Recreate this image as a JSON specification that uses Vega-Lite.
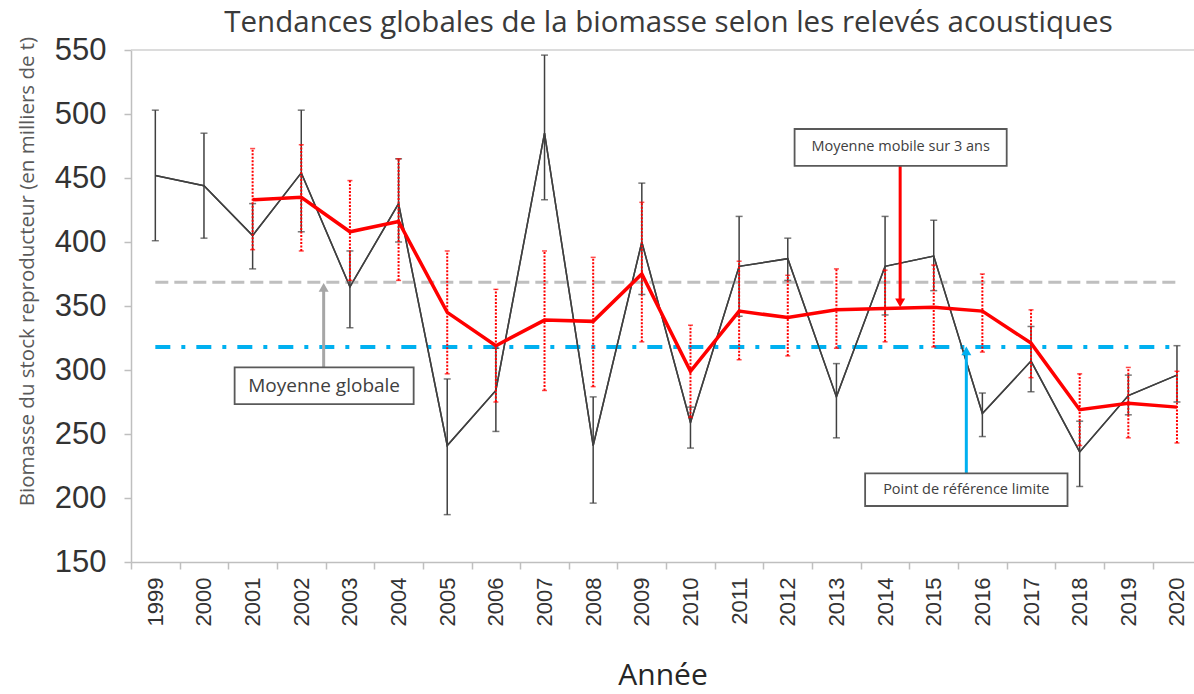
{
  "$schema": "https://vega.github.io/schema/vega-lite/v6.json",
  "width": 1063,
  "height": 512,
  "autosize": {"type": "none"},
  "padding": {"left": 131, "top": 50, "right": 0, "bottom": 132},
  "background": "white",
  "config": {
    "view": {"stroke": null},
    "font": "Open Sans",
    "axis": {
      "grid": false,
      "domainColor": "#BFBFBF",
      "domainWidth": 1.5,
      "tickColor": "#BFBFBF",
      "tickWidth": 1.5,
      "labelFont": "Liberation Sans",
      "labelColor": "#333333",
      "titleFont": "Open Sans",
      "titleFontWeight": "normal"
    }
  },
  "title": {
    "text": "Tendances globales de la biomasse selon les relevés acoustiques",
    "font": "Open Sans",
    "fontSize": 29.5,
    "fontWeight": "normal",
    "color": "#3a3a3a",
    "anchor": "middle",
    "offset": -4,
    "dx": 6
  },
  "datasets": {
    "main": [
      {"year": 1999, "val": 452, "lo": 401, "hi": 503, "ma": null, "malo": null, "mahi": null},
      {"year": 2000, "val": 444, "lo": 403, "hi": 485, "ma": null, "malo": null, "mahi": null},
      {"year": 2001, "val": 405, "lo": 379, "hi": 430, "ma": 433, "malo": 394, "mahi": 473},
      {"year": 2002, "val": 454, "lo": 408, "hi": 503, "ma": 435, "malo": 393, "mahi": 476},
      {"year": 2003, "val": 365, "lo": 333, "hi": 393, "ma": 408, "malo": 370, "mahi": 448},
      {"year": 2004, "val": 430, "lo": 400, "hi": 465, "ma": 416, "malo": 370, "mahi": 465},
      {"year": 2005, "val": 241, "lo": 187, "hi": 293, "ma": 345, "malo": 297, "mahi": 393},
      {"year": 2006, "val": 284, "lo": 252, "hi": 317, "ma": 319, "malo": 275, "mahi": 363},
      {"year": 2007, "val": 485, "lo": 433, "hi": 546, "ma": 339, "malo": 284, "mahi": 393},
      {"year": 2008, "val": 241, "lo": 196, "hi": 279, "ma": 338, "malo": 287, "mahi": 388},
      {"year": 2009, "val": 400, "lo": 359, "hi": 446, "ma": 375, "malo": 322, "mahi": 431},
      {"year": 2010, "val": 259, "lo": 239, "hi": 271, "ma": 299, "malo": 263, "mahi": 335},
      {"year": 2011, "val": 381, "lo": 342, "hi": 420, "ma": 346, "malo": 308, "mahi": 385},
      {"year": 2012, "val": 387, "lo": 370, "hi": 403, "ma": 341, "malo": 311, "mahi": 374},
      {"year": 2013, "val": 279, "lo": 247, "hi": 305, "ma": 347, "malo": 317, "mahi": 379},
      {"year": 2014, "val": 381, "lo": 343, "hi": 420, "ma": 348, "malo": 322, "mahi": 378},
      {"year": 2015, "val": 389, "lo": 362, "hi": 417, "ma": 349, "malo": 318, "mahi": 382},
      {"year": 2016, "val": 266, "lo": 248, "hi": 282, "ma": 346, "malo": 314, "mahi": 375},
      {"year": 2017, "val": 307, "lo": 283, "hi": 334, "ma": 321, "malo": 294, "mahi": 347},
      {"year": 2018, "val": 236, "lo": 209, "hi": 260, "ma": 269, "malo": 241, "mahi": 297},
      {"year": 2019, "val": 280, "lo": 265, "hi": 296, "ma": 274, "malo": 247, "mahi": 302},
      {"year": 2020, "val": 296, "lo": 275, "hi": 319, "ma": 271, "malo": 243, "mahi": 299}
    ],
    "refs": [
      {"ref": "Moyenne globale", "year": 1999, "v": 368.5},
      {"ref": "Moyenne globale", "year": 2020, "v": 368.5},
      {"ref": "Point de référence limite", "year": 1999, "v": 318},
      {"ref": "Point de référence limite", "year": 2020, "v": 318}
    ],
    "arrows": [
      {"a": "glob", "year": 2002.46, "v": 302.1, "v2": 364.5},
      {"a": "ma", "year": 2014.31, "v": 459.4, "v2": 352.4},
      {"a": "lim", "year": 2015.67, "v": 219.3, "v2": 315}
    ],
    "boxes": [
      {"label": "Moyenne globale", "year": 2000.63, "year2": 2004.31, "v": 273.4, "v2": 302.1, "tx": 2002.47, "ty": 287.5},
      {"label": "Moyenne mobile sur 3 ans", "year": 2012.14, "year2": 2016.5, "v": 459.4, "v2": 488.3, "tx": 2014.32, "ty": 473.9},
      {"label": "Point de référence limite", "year": 2013.59, "year2": 2017.75, "v": 193.75, "v2": 219.3, "tx": 2015.67, "ty": 206.5}
    ]
  },
  "data": {"name": "main"},
  "layer": [
    {
      "mark": {"type": "line", "color": "#404040", "strokeWidth": 1.5},
      "encoding": {
        "x": {
          "field": "year", "type": "quantitative", "title": "Année",
          "scale": {"domain": [1998.5, 2020.35], "nice": false, "zero": false},
          "axis": {
            "values": [1999, 2000, 2001, 2002, 2003, 2004, 2005, 2006, 2007, 2008, 2009, 2010, 2011, 2012, 2013, 2014, 2015, 2016, 2017, 2018, 2019, 2020],
            "format": "d",
            "labelAngle": 270,
            "labelAlign": "right",
            "labelBaseline": "middle",
            "labelFontSize": 22,
            "labelPadding": 8,
            "labelOverlap": false,
            "labelFlush": false,
            "tickOffset": -24.33,
            "labelOffset": 24.33,
            "tickSize": 7,
            "titleFontSize": 30,
            "titleColor": "#262626",
            "titlePadding": 35
          }
        },
        "y": {
          "field": "val", "type": "quantitative", "title": "Biomasse du stock reproducteur (en milliers de t)",
          "scale": {"domain": [150, 550], "nice": false, "zero": false},
          "axis": {
            "values": [150, 200, 250, 300, 350, 400, 450, 500, 550],
            "labelFontSize": 31,
            "labelPadding": 18,
            "tickSize": 7,
            "titleFontSize": 20.5,
            "titleColor": "#595959",
            "titlePadding": 17,
            "titleY": 221
          }
        }
      }
    },
    {
      "data": {"values": [{}]},
      "mark": {"type": "rule", "color": "#D0D0D0", "strokeWidth": 1.5},
      "encoding": {"y": {"datum": 550, "type": "quantitative", "title": "Biomasse du stock reproducteur (en milliers de t)"}}
    },
    {
      "data": {"name": "refs"},
      "transform": [{"filter": "datum.ref === 'Moyenne globale'"}],
      "mark": {"type": "line", "color": "#BFBFBF", "strokeWidth": 3, "strokeDash": [13, 6]},
      "encoding": {
        "x": {"field": "year", "type": "quantitative", "title": "Année"},
        "y": {"field": "v", "type": "quantitative", "title": "Biomasse du stock reproducteur (en milliers de t)"}
      }
    },
    {
      "data": {"name": "refs"},
      "transform": [{"filter": "datum.ref === 'Point de référence limite'"}],
      "mark": {"type": "line", "color": "#00B0F0", "strokeWidth": 4, "strokeDash": [15, 11, 4, 11]},
      "encoding": {
        "x": {"field": "year", "type": "quantitative", "title": "Année"},
        "y": {"field": "v", "type": "quantitative", "title": "Biomasse du stock reproducteur (en milliers de t)"}
      }
    },
    {
      "mark": {"type": "errorbar", "color": "#404040", "thickness": 1.5, "ticks": {"size": 7, "thickness": 1.5}},
      "encoding": {
        "x": {"field": "year", "type": "quantitative", "title": "Année"},
        "y": {"field": "lo", "type": "quantitative", "title": "Biomasse du stock reproducteur (en milliers de t)"},
        "y2": {"field": "hi"}
      }
    },
    {
      "mark": {"type": "line", "color": "#404040", "strokeWidth": 1.5},
      "encoding": {
        "x": {"field": "year", "type": "quantitative", "title": "Année"},
        "y": {"field": "val", "type": "quantitative", "title": "Biomasse du stock reproducteur (en milliers de t)"}
      }
    },
    {
      "transform": [{"filter": "datum.ma != null"}],
      "mark": {"type": "errorbar", "color": "#FF0000", "thickness": 2, "rule": {"strokeDash": [2, 1.5]}, "ticks": {"size": 5, "thickness": 1.5}},
      "encoding": {
        "x": {"field": "year", "type": "quantitative", "title": "Année"},
        "y": {"field": "malo", "type": "quantitative", "title": "Biomasse du stock reproducteur (en milliers de t)"},
        "y2": {"field": "mahi"}
      }
    },
    {
      "transform": [{"filter": "datum.ma != null"}],
      "mark": {"type": "line", "color": "#FF0000", "strokeWidth": 3.5},
      "encoding": {
        "x": {"field": "year", "type": "quantitative", "title": "Année"},
        "y": {"field": "ma", "type": "quantitative", "title": "Biomasse du stock reproducteur (en milliers de t)"}
      }
    },
    {
      "data": {"name": "arrows"},
      "mark": {"type": "rule", "strokeWidth": 3},
      "encoding": {
        "x": {"field": "year", "type": "quantitative", "title": "Année"},
        "y": {"field": "v", "type": "quantitative", "title": "Biomasse du stock reproducteur (en milliers de t)"},
        "y2": {"field": "v2"},
        "color": {"field": "a", "type": "nominal", "scale": {"domain": ["glob", "ma", "lim"], "range": ["#A6A6A6", "#FF0000", "#00B0F0"]}, "legend": null}
      }
    },
    {
      "data": {"name": "arrows"},
      "mark": {"type": "point", "filled": true, "opacity": 1, "size": 100},
      "encoding": {
        "x": {"field": "year", "type": "quantitative", "title": "Année"},
        "y": {"field": "v2", "type": "quantitative", "title": "Biomasse du stock reproducteur (en milliers de t)"},
        "color": {"field": "a", "type": "nominal", "scale": {"domain": ["glob", "ma", "lim"], "range": ["#A6A6A6", "#FF0000", "#00B0F0"]}, "legend": null},
        "shape": {"field": "a", "type": "nominal", "scale": {"domain": ["glob", "ma", "lim"], "range": ["triangle-up", "triangle-down", "triangle-up"]}, "legend": null}
      }
    },
    {
      "data": {"name": "boxes"},
      "mark": {"type": "rect", "fill": "white", "stroke": "#595959", "strokeWidth": 1.8},
      "encoding": {
        "x": {"field": "year", "type": "quantitative", "title": "Année"},
        "x2": {"field": "year2"},
        "y": {"field": "v", "type": "quantitative", "title": "Biomasse du stock reproducteur (en milliers de t)"},
        "y2": {"field": "v2"}
      }
    },
    {
      "data": {"name": "boxes"},
      "transform": [{"filter": "datum.label === 'Moyenne globale'"}],
      "mark": {"type": "text", "font": "Open Sans", "fontSize": 19, "color": "#404040", "align": "center", "baseline": "middle"},
      "encoding": {
        "x": {"field": "tx", "type": "quantitative", "title": "Année"},
        "y": {"field": "ty", "type": "quantitative", "title": "Biomasse du stock reproducteur (en milliers de t)"},
        "text": {"field": "label"}
      }
    },
    {
      "data": {"name": "boxes"},
      "transform": [{"filter": "datum.label !== 'Moyenne globale'"}],
      "mark": {"type": "text", "font": "Open Sans", "fontSize": 14.5, "color": "#404040", "align": "center", "baseline": "middle"},
      "encoding": {
        "x": {"field": "tx", "type": "quantitative", "title": "Année"},
        "y": {"field": "ty", "type": "quantitative", "title": "Biomasse du stock reproducteur (en milliers de t)"},
        "text": {"field": "label"}
      }
    }
  ]
}
